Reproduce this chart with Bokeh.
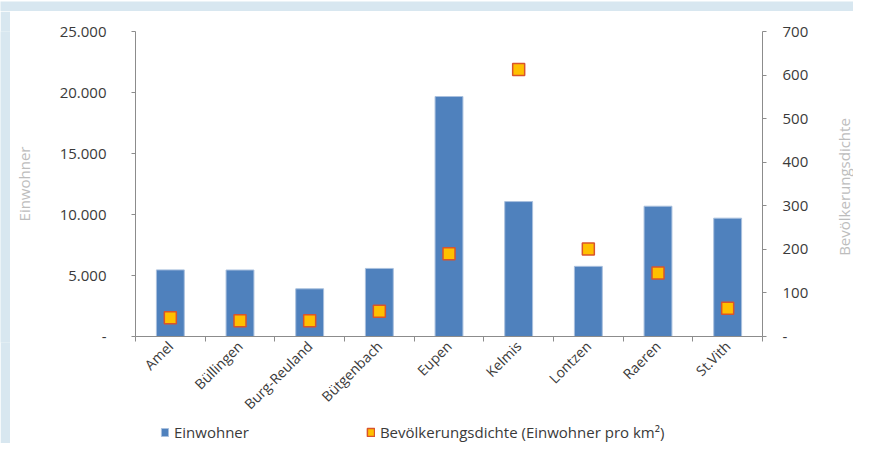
import math
from bokeh.plotting import figure
from bokeh.layouts import column, row
from bokeh.core.properties import value
from bokeh.models import (Range1d, LinearAxis, FixedTicker, CustomJSTickFormatter,
                          Legend, LegendItem)
from bokeh.embed import file_html
from bokeh.resources import INLINE

# ---- data ----
gemeinden = ["Amel", "Büllingen", "Burg-Reuland", "Bütgenbach", "Eupen",
             "Kelmis", "Lontzen", "Raeren", "St.Vith"]
einwohner = [5460, 5450, 3910, 5580, 19670, 11060, 5750, 10680, 9700]
dichte = [43, 36, 36, 58, 190, 613, 201, 146, 65]
left_ticks = [0, 5000, 10000, 15000, 20000, 25000]
right_ticks = [0, 100, 200, 300, 400, 500, 600, 700]
label_bars = "Einwohner"
label_dots = "Bevölkerungsdichte (Einwohner pro km²)"
title_left = "Einwohner"
title_right = "Bevölkerungsdichte"

xs = [i + 0.5 for i in range(len(gemeinden))]
bounds = list(range(len(gemeinden) + 1))

FONT = "Open Sans"
AXIS_GRAY = "#8c8c8c"
TEXT = "#3a3a3a"
TITLE_GRAY = "#bdbdbd"
FRAME_BLUE = "#d8e7f0"
BAR = dict(fill_color="#4f81bd", line_color="#a9c0de", line_width=1)
DOT_FILL = "#ffc000"
DOT_LINE = "#d9542b"

MAIN_W, MAIN_H = 823, 411
LEG_H = 21
TOP, BOTTOM = 20, 80


def bare(w, h, fill, **kw):
    opts = dict(min_border=0)
    opts.update(kw)
    s = figure(width=w, height=h, output_backend="svg", toolbar_location=None,
               x_axis_type=None, y_axis_type=None,
               x_range=Range1d(0, 1), y_range=Range1d(0, 1), **opts)
    s.border_fill_color = fill
    s.background_fill_color = fill
    s.outline_line_color = None
    s.grid.visible = False
    return s


p = figure(width=MAIN_W, height=MAIN_H, output_backend="svg", toolbar_location=None,
           x_range=Range1d(0, len(gemeinden)), y_range=Range1d(0, 25000),
           min_border_left=122, min_border_right=71, min_border_top=TOP,
           min_border_bottom=BOTTOM)
p.border_fill_color = "white"
p.background_fill_color = "white"
p.outline_line_color = None
p.grid.visible = False

p.extra_y_ranges = {"dens": Range1d(0, 700)}

p.vbar(x=xs, top=einwohner, width=0.4, **BAR)
p.scatter(x=xs, y=dichte, y_range_name="dens", marker="square", size=12,
          fill_color=DOT_FILL, line_color=DOT_LINE, line_width=1.5)

# x axis
xa = p.xaxis[0]
xa.ticker = FixedTicker(ticks=xs, minor_ticks=bounds)
xa.major_label_overrides = {x: g for x, g in zip(xs, gemeinden)}
xa.major_label_orientation = math.pi / 4
xa.major_tick_out = 0
xa.major_tick_in = 0
xa.minor_tick_out = 5
xa.minor_tick_in = 0
xa.minor_tick_line_color = AXIS_GRAY
xa.axis_line_color = AXIS_GRAY
xa.major_label_text_font = FONT
xa.major_label_text_font_size = "14px"
xa.major_label_text_color = TEXT
xa.major_label_standoff = 2

# left axis
ya = p.yaxis[0]
ya.ticker = FixedTicker(ticks=left_ticks)
ya.formatter = CustomJSTickFormatter(code=r"""
if (tick == 0) { return '-'; }
return tick.toFixed(0).replace(/\B(?=(\d{3})+(?!\d))/g, '.');
""")
ya.major_tick_out = 4
ya.major_tick_in = 0
ya.minor_tick_line_color = None
ya.axis_line_color = AXIS_GRAY
ya.major_tick_line_color = AXIS_GRAY
ya.major_label_text_font = FONT
ya.major_label_text_font_size = "15px"
ya.major_label_text_color = TEXT
ya.major_label_standoff = 25
ya.axis_label = title_left
ya.axis_label_text_font = FONT
ya.axis_label_text_font_size = "15px"
ya.axis_label_text_font_style = "normal"
ya.axis_label_text_color = TITLE_GRAY
ya.axis_label_standoff = 23

# right axis (its title is drawn in the narrow strip to the right)
ra = LinearAxis(y_range_name="dens")
ra.ticker = FixedTicker(ticks=right_ticks)
ra.formatter = CustomJSTickFormatter(code=r"""
if (tick == 0) { return '-'; }
return tick.toFixed(0);
""")
ra.major_tick_out = 4
ra.major_tick_in = 0
ra.minor_tick_line_color = None
ra.axis_line_color = AXIS_GRAY
ra.major_tick_line_color = AXIS_GRAY
ra.major_label_text_font = FONT
ra.major_label_text_font_size = "15px"
ra.major_label_text_color = TEXT
ra.major_label_standoff = 16
p.add_layout(ra, "right")

# right title strip, frame matching the chart frame vertically
tf = bare(20, MAIN_H + LEG_H, "white", min_border_top=TOP,
          min_border_bottom=LEG_H + BOTTOM)
tf.text(x=[0.5], y=[0.5], text=[title_right], angle=math.pi / 2,
        text_align="center", text_baseline="middle", text_font=value(FONT),
        text_font_size="15px", text_color=TITLE_GRAY)

# legend strip below the chart (proxy renderers have zero size)
lf = bare(MAIN_W, LEG_H, "white")
lb = lf.vbar(x=[0.5], top=[-9], bottom=[-9], width=0, **BAR)
ld = lf.vbar(x=[0.5], top=[-9], bottom=[-9], width=0, fill_color=DOT_FILL,
             line_color=DOT_LINE, line_width=1.5)
lg = Legend(items=[LegendItem(label=label_bars, renderers=[lb]),
                   LegendItem(label=label_dots, renderers=[ld])])
lg.orientation = "horizontal"
lg.location = (25, 1)
lg.border_line_color = None
lg.background_fill_alpha = 0
lg.padding = 0
lg.margin = 0
lg.spacing = 117
lg.glyph_width = 9
lg.glyph_height = 10
lg.label_standoff = 5
lg.label_text_font = FONT
lg.label_text_font_size = "15px"
lg.label_text_color = TEXT
lg.label_height = 18
lf.add_layout(lg)

root = column(bare(853, 11, FRAME_BLUE),
              row(bare(10, MAIN_H + LEG_H, FRAME_BLUE),
                  column(p, lf, spacing=0), tf, spacing=0),
              spacing=0)

open("out.html", "w").write(file_html(root, INLINE))
